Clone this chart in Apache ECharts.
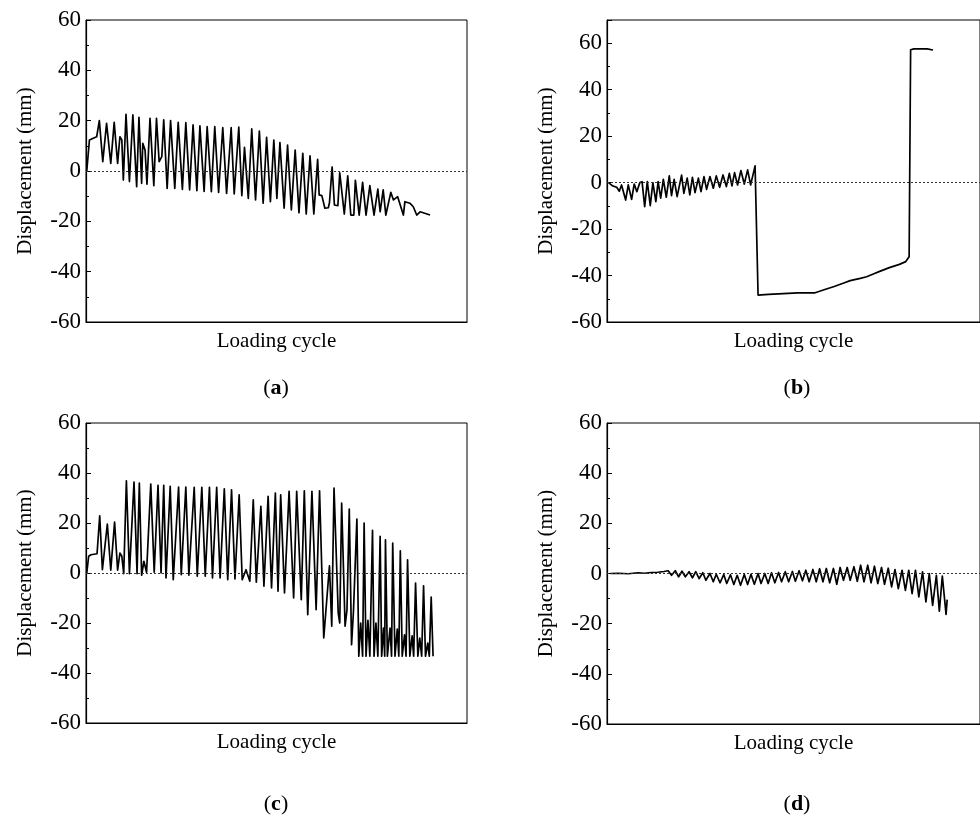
<!DOCTYPE html>
<html><head><meta charset="utf-8">
<script src="https://cdn.jsdelivr.net/npm/echarts@6/dist/echarts.min.js"></script>
<style>html,body{margin:0;padding:0;background:#fff}#c{width:980px;height:819px}</style>
</head><body><div id="c"></div>
<script>
// Panel (a)
const xA=[0.2,0.9,1.9,2.8,3.5,4.4,5.4,6.5,7.4,8.3,8.9,9.4,9.8,10.5,11.4,12.3,13.3,13.9,14.6,14.9,15.5,16.0,16.8,17.8,18.5,19.2,19.9,20.4,21.3,22.2,23.3,24.2,25.3,26.2,27.2,28.1,29.1,29.9,31.0,31.8,32.9,33.8,34.8,35.9,36.9,38.1,38.9,40.1,40.9,41.6,42.6,43.5,44.5,45.5,46.5,47.4,48.4,49.3,50.1,50.9,52.0,52.9,53.9,54.9,55.9,56.9,57.8,58.8,59.8,60.8,61.2,61.9,62.7,63.6,63.9,64.6,65.2,66.1,66.6,67.8,68.7,69.5,70.3,70.7,71.7,72.6,73.5,74.5,75.6,76.6,77.2,78.0,78.7,80.0,80.7,81.8,83.3,83.7,85.0,85.9,86.8,87.7,88.5,90.3];
const yA=[0,12.3,13.0,13.6,20.0,3.7,18.9,3.0,19.3,3.0,13.6,12.3,-3.6,22.5,-4.2,22.3,-6.2,21.3,-4.9,11.0,8.3,-5.2,20.9,-5.8,20.9,3.7,5.7,20.3,-6.9,20.0,-6.9,19.3,-7.3,19.2,-7.5,18.3,-7.8,17.9,-8.1,17.6,-8.2,17.6,-8.5,17.2,-8.9,17.2,-9.1,17.4,-9.8,9.4,-10.9,16.7,-11.5,15.9,-12.8,13.4,-12.2,12.3,-10.9,11.3,-14.8,10.3,-15.5,8.3,-16.6,7.0,-17.1,6.0,-17.1,4.6,-9.5,-9.8,-14.8,-14.6,-12.6,1.6,-13.5,-13.8,-0.7,-17.1,-1.9,-17.5,-17.5,-3.7,-17.5,-4.5,-17.5,-5.8,-17.5,-7.2,-16.2,-7.5,-17.5,-8.5,-11.5,-10.2,-17.5,-12.2,-12.8,-14.2,-17.5,-16.2,-16.6,-17.5];
// Panel (b)
const xB=[0.4,1.5,2.6,3.3,3.9,5.0,5.7,6.6,7.3,8.0,8.8,9.4,10.1,10.8,11.6,12.3,13.1,13.7,14.4,15.1,15.9,16.7,17.3,18.0,18.8,20.0,20.6,21.5,22.2,22.9,23.6,24.5,25.2,26.0,26.7,27.6,28.5,29.3,30.2,31.1,32.0,32.8,33.5,34.2,35.0,35.9,36.8,37.7,38.5,39.7,40.5,43.3,51.2,55.6,58.2,60.9,63.5,65.2,67.9,69.6,71.4,73.1,75.7,78.4,80.1,81.0,81.4,82.3,85.8,87.4];
const yB=[0,-1.4,-2.0,-3.7,-1.0,-7.5,-1.0,-7.2,-0.6,-3.9,0,0.4,-10.3,0.4,-9.9,0,-8.2,0.4,-6.7,1.4,-6.3,2.9,-5.6,1.4,-6.0,3.2,-4.6,1.9,-5.3,2.3,-4.3,1.9,-3.9,2.6,-2.9,2.6,-2.4,2.9,-2.0,3.3,-1.7,4.0,-1.4,4.3,-1.0,5.2,-0.6,5.5,-1.0,7.2,-48.4,-48.1,-47.5,-47.5,-46.1,-44.7,-43.2,-42.2,-41.2,-40.5,-39.3,-38.2,-36.6,-35.2,-34.0,-31.9,57.2,57.6,57.6,57.1];
// Panel (c)
const xC=[0.2,0.7,1.3,2.9,3.6,4.3,5.6,6.5,7.5,8.3,8.9,9.4,9.9,10.6,11.4,12.6,13.4,14.0,14.6,15.2,15.9,17.0,17.9,18.9,19.7,20.4,21.0,22.1,22.9,24.3,25.0,26.2,27.0,28.4,29.2,30.4,31.3,32.4,33.2,34.3,35.2,36.3,37.2,38.2,39.1,40.2,41.0,42.0,43.0,43.9,44.7,45.9,46.7,47.8,48.7,49.7,50.4,51.1,52.1,53.3,54.5,55.3,56.5,57.3,58.2,59.3,60.4,61.3,62.4,63.9,64.5,65.1,66.2,66.6,67.1,68.0,68.5,69.1,69.7,70.2,71.1,71.6,72.1,72.6,73.0,73.5,74.0,74.5,75.2,75.6,76.1,76.6,77.2,77.6,78.1,78.4,78.6,79.1,79.8,80.2,80.5,81.1,81.7,82.1,82.5,83.0,83.6,84.0,84.4,85.0,85.6,86.0,86.5,87.1,87.6,88.1,88.6,89.1,89.7,90.1,90.6,91.1];
const yC=[0,6.7,7.3,7.7,22.9,1.3,19.6,1.1,20.4,1.1,8.0,6.7,-0.3,36.9,-0.3,36.4,-0.3,36.0,-0.9,4.7,0.3,35.6,0.3,35.1,0,35.1,-2.0,34.7,-2.7,34.4,-0.7,34.4,-0.9,34.3,-1.3,34.3,-1.3,34.3,-2.0,34.3,-2.0,33.7,-2.7,33.3,-2.4,31.3,-2.7,1.3,-3.3,29.3,-3.7,26.7,-5.3,30.7,-6.0,32.0,-7.3,31.3,-8.0,32.7,-10.0,32.7,-10.7,32.9,-16.7,32.7,-14.7,32.9,-26.0,2.9,-21.3,34.0,-16.0,-20.0,28.0,-21.3,-14.7,25.6,-28.7,-15.3,21.6,-33.3,-20.0,-33.3,20.0,-33.3,-18.9,-33.3,17.1,-33.3,-20.0,-33.3,14.7,-33.3,-22.0,-33.3,13.3,-33.3,-22.0,-33.3,12.0,-33.3,-22.4,-33.3,8.9,-33.3,-24.7,-33.3,5.3,-33.3,-25.1,-33.3,-4.0,-33.3,-26.0,-33.3,-5.1,-33.3,-28.0,-33.3,-9.6,-33.3];
// Panel (d)
const xD=[0.9,3.1,5.7,8.3,10.1,11.8,13.6,15.3,16.4,17.3,18.3,19.2,20.1,21.0,22.0,22.9,23.8,24.7,25.7,26.5,27.6,28.5,29.3,30.3,31.3,32.1,33.1,34.0,34.9,35.8,36.8,37.7,38.6,39.5,40.5,41.3,42.3,43.2,44.1,45.0,46.0,46.8,47.8,48.7,49.7,50.5,51.5,52.4,53.3,54.2,55.2,56.1,57.0,57.9,58.8,59.7,60.7,61.6,62.5,63.4,64.4,65.2,66.2,67.1,68.0,68.9,69.9,70.8,71.7,72.6,73.6,74.4,75.4,76.3,77.2,78.1,79.1,80.0,80.9,81.8,82.7,83.6,84.6,85.5,86.4,87.3,88.3,89.1,89.9,90.9,91.2];
const yD=[0,0.1,-0.1,0.3,0.1,0.4,0.5,0.8,1.1,-0.7,1.1,-1.3,0.9,-1.3,0.7,-1.7,0.7,-2.0,0.3,-2.7,0,-3.3,-0.3,-3.7,-0.4,-4.0,-0.5,-4.4,-0.7,-4.7,-0.4,-4.4,-0.3,-4.3,0,-4.0,0,-4.0,0.3,-3.7,0.4,-3.3,0.7,-3.3,0.8,-3.1,1.1,-2.9,1.3,-3.3,1.6,-3.3,1.9,-3.3,2.0,-3.7,2.0,-4.3,2.4,-2.7,2.4,-2.7,2.7,-3.1,3.3,-3.3,3.3,-3.7,2.9,-4.0,2.4,-4.3,2.1,-5.3,1.6,-6.0,1.3,-6.7,1.3,-8.0,1.3,-9.3,0.7,-11.3,0,-12.7,-0.7,-15.0,-1.0,-16.3,-10.4];

const panelLabels=['a','b','c','d'];
const yMax=[60,70,60,60];
const xName='Loading cycle';
const yName='Displacement (mm)';
const yTicks=[-60,-40,-20,0,20,40,60];

const FONT='"Liberation Serif","Times New Roman",serif';
const grids=[
  {left:86,top:20,width:381,height:302},
  {left:607,top:20,width:381,height:302},
  {left:86,top:423,width:381,height:300},
  {left:607,top:423,width:381,height:301}
];
const series=[[xA,yA],[xB,yB],[xC,yC],[xD,yD]];
const labelPos=[[276,388],[797,388],[276,804],[797,804]];

const option={
  backgroundColor:'#fff',
  animation:false,
  grid:grids.map(g=>Object.assign({show:true,borderColor:'#000',borderWidth:1,backgroundColor:'transparent'},g)),
  xAxis:grids.map((g,i)=>({
    gridIndex:i,type:'value',min:0,max:100,
    axisLine:{show:true,onZero:false,lineStyle:{color:'#000',width:1.2}},
    axisTick:{show:false},axisLabel:{show:false},splitLine:{show:false},
    name:xName,nameLocation:'middle',nameGap:9,
    nameTextStyle:{fontFamily:FONT,fontSize:21,color:'#000',verticalAlign:'top'}
  })),
  yAxis:grids.map((g,i)=>({
    gridIndex:i,type:'value',min:-60,max:yMax[i],interval:20,
    axisLine:{show:true,onZero:false,lineStyle:{color:'#000',width:1.2}},
    axisTick:{show:true,inside:true,length:5,lineStyle:{color:'#000'}},
    minorTick:{show:true,splitNumber:2,length:3,lineStyle:{color:'#000'}},
    splitLine:{show:false},minorSplitLine:{show:false},
    axisLabel:{fontFamily:FONT,fontSize:23,color:'#000',margin:5,
      formatter:v=>yTicks.includes(v)?String(v):''},
    name:yName,nameLocation:'middle',nameGap:50,nameRotate:90,
    nameTextStyle:{fontFamily:FONT,fontSize:21,color:'#000'}
  })),
  series:series.map((s,i)=>({
    type:'line',xAxisIndex:i,yAxisIndex:i,
    data:s[0].map((x,k)=>[x,s[1][k]]),
    showSymbol:false,symbol:'none',
    lineStyle:{color:'#000',width:1.7,join:'round'},
    markLine:{silent:true,symbol:'none',label:{show:false},
      lineStyle:{color:'#333',type:[2,2],width:1},
      data:[{yAxis:0}]}
  })),
  graphic:labelPos.map((p,i)=>({
    type:'text',x:p[0],y:p[1],
    style:{text:'{p|(}{b|'+panelLabels[i]+'}{p|)}',align:'center',verticalAlign:'middle',
      rich:{p:{fontFamily:FONT,fontSize:22,color:'#000'},b:{fontFamily:FONT,fontSize:22,fontWeight:'bold',color:'#000'}}}
  }))
};
const chart=echarts.init(document.getElementById('c'),null,{renderer:'canvas'});
chart.setOption(option);
</script></body></html>
